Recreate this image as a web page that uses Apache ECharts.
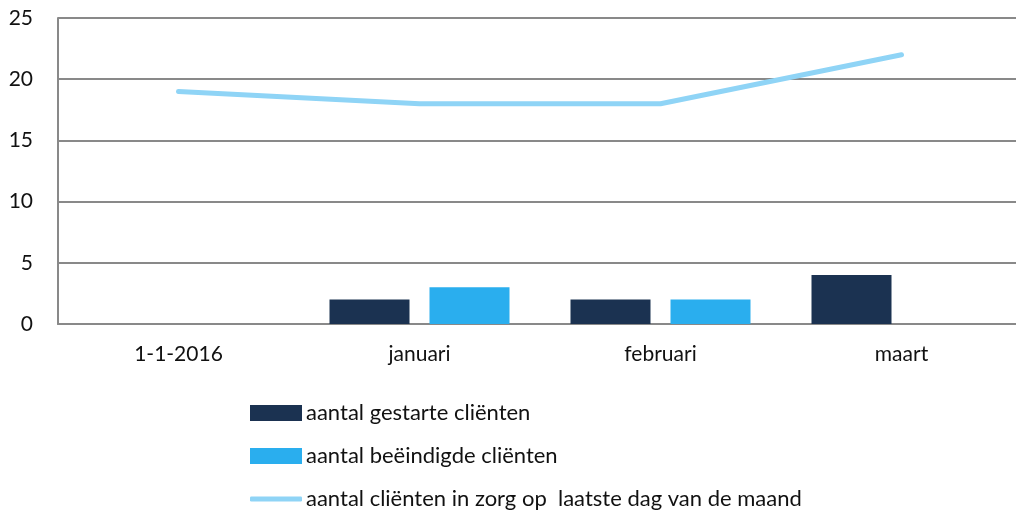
<!DOCTYPE html>
<html lang="nl">
<head>
<meta charset="UTF-8">
<title>clienten</title>
<style>
    *{ margin: 0; padding: 0; }
    body{ background: #fff; overflow: hidden; }
    /* iets breder dan het venster: het plotvlak loopt rechts door */
    #chart{ width: 1040px; height: 510px; }
</style>
</head>
<body>
<div id="chart"></div>
<script src="https://cdn.jsdelivr.net/npm/echarts@6/dist/echarts.min.js"></script>
<script>
// categorieen en waarden
var categories = ['1-1-2016', 'januari', 'februari', 'maart']
var gestart = [null, 2, 2, 4]
var beeindigd = [null, 3, 2, null]
var inZorg = [19, 18, 18, 22]
var yTicks = [0, 5, 10, 15, 20, 25]

var names = ['aantal gestarte cliënten', 'aantal beëindigde cliënten', 'aantal cliënten in zorg op  laatste dag van de maand']
var font = 'Lato, "Open Sans", sans-serif'

var chart = echarts.init(document.getElementById('chart'))

function legendAt(top, name, h, icon) {
    return {
        orient: 'vertical',
        left: 245,
        top: top,
        data: [{ name: name, icon: icon }],
        itemWidth: 52,
        itemHeight: h,
        itemGap: 0,
        selectedMode: false,
        textStyle: { fontFamily: font, fontSize: 22, color: '#111', padding: [0, 0, 0, -1] }
    }
}

var options = {
    animation: false,
    grid: { left: 58, top: 18, width: 964, height: 306, containLabel: false },
    legend: [
        legendAt(397, names[0], 16, 'rect'),
        legendAt(440, names[1], 16, 'rect'),
        legendAt(483, names[2], 5, 'roundRect')
    ],
    xAxis: {
        type: 'category',
        data: categories,
        axisLine: { lineStyle: { color: '#898989', width: 2 } },
        axisTick: { show: false },
        axisLabel: { fontFamily: font, fontSize: 21, color: '#111', margin: 20 }
    },
    yAxis: {
        type: 'value',
        min: yTicks[0],
        max: yTicks[yTicks.length - 1],
        interval: 5,
        axisLine: { show: true, lineStyle: { color: '#898989', width: 2 } },
        axisTick: { show: false },
        axisLabel: { fontFamily: font, fontSize: 21, color: '#111', margin: 25 },
        splitLine: { lineStyle: { color: '#898989', width: 2 } }
    },
    series: [
        {
            name: names[0],
            type: 'bar',
            data: gestart,
            barWidth: 80,
            barGap: '25%',
            itemStyle: { color: '#1b3251' }
        },
        {
            name: names[1],
            type: 'bar',
            data: beeindigd,
            barWidth: 80,
            itemStyle: { color: '#2aaeee' }
        },
        {
            name: names[2],
            type: 'line',
            data: inZorg,
            symbol: 'none',
            lineStyle: { color: '#8fd4f6', width: 5, cap: 'round' },
            itemStyle: { color: '#8fd4f6' }
        }
    ]
}

chart.setOption(options)
</script>
</body>
</html>
